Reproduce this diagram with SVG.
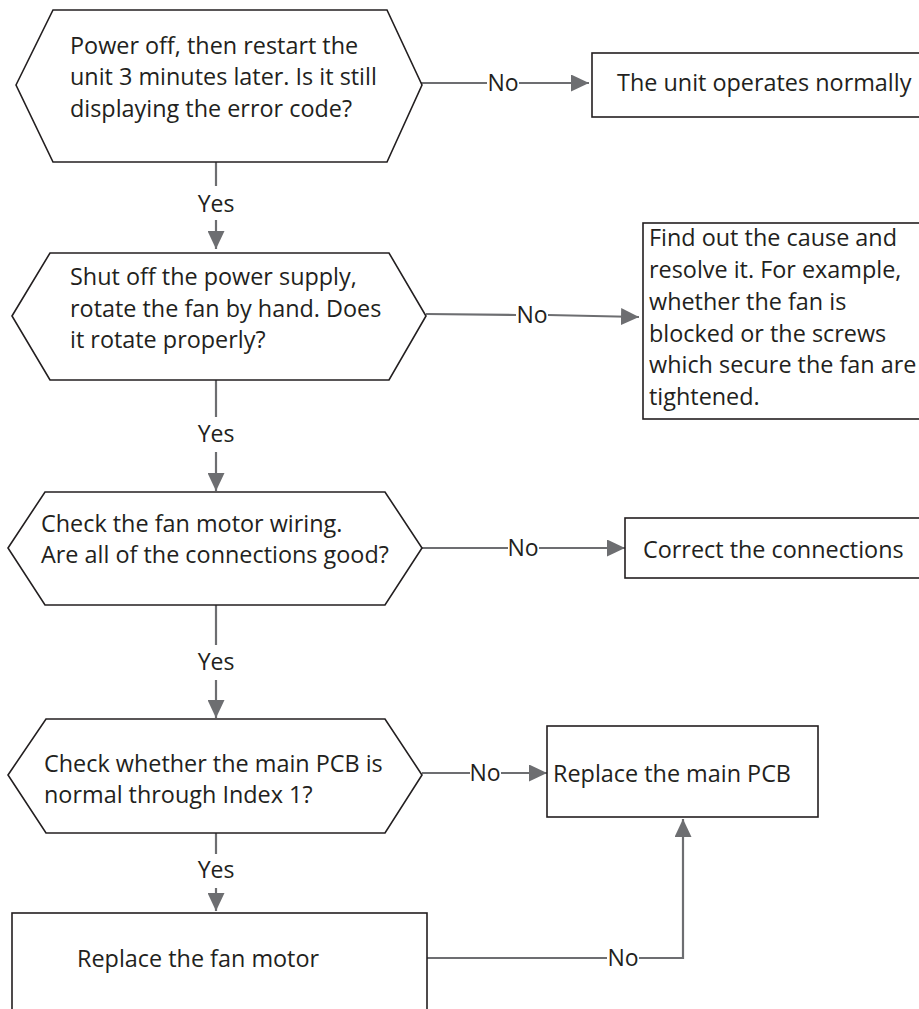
<svg xmlns="http://www.w3.org/2000/svg" width="919" height="1009" viewBox="0 0 919 1009">
<style>
.shape{fill:#fff;stroke:#231f20;stroke-width:1.6}
.t{font-family:"Open Sans","Liberation Sans",sans-serif;font-size:23.4px;fill:#231f20}
.lbl{font-family:"Open Sans","Liberation Sans",sans-serif;font-size:23px;fill:#231f20;text-anchor:middle}
.c{fill:none;stroke:#6d6e71;stroke-width:2.2}
</style>
<defs>
<marker id="ah" markerUnits="userSpaceOnUse" markerWidth="19" markerHeight="17" refX="18" refY="8.5" orient="auto">
<path d="M0,0 L18,8.5 L0,17 Z" fill="#6d6e71"/>
</marker>
</defs>
<rect width="919" height="1009" fill="#fff"/>

<g id="connectors">
<line class="c" x1="216" y1="156" x2="216" y2="186"/>
<line class="c" x1="216" y1="220" x2="216" y2="249" marker-end="url(#ah)"/>
<line class="c" x1="216" y1="375" x2="216" y2="417"/>
<line class="c" x1="216" y1="452" x2="216" y2="491" marker-end="url(#ah)"/>
<line class="c" x1="216" y1="600" x2="216" y2="645"/>
<line class="c" x1="216" y1="680" x2="216" y2="718" marker-end="url(#ah)"/>
<line class="c" x1="216" y1="829" x2="216" y2="854"/>
<line class="c" x1="216" y1="888" x2="216" y2="911" marker-end="url(#ah)"/>

<line class="c" x1="420" y1="83" x2="487" y2="83"/>
<line class="c" x1="519" y1="83" x2="589" y2="83" marker-end="url(#ah)"/>
<line class="c" x1="426" y1="314" x2="516" y2="315"/>
<line class="c" x1="548" y1="315" x2="639" y2="317" marker-end="url(#ah)"/>
<line class="c" x1="422" y1="548" x2="508" y2="548"/>
<line class="c" x1="539" y1="548" x2="625" y2="548" marker-end="url(#ah)"/>
<line class="c" x1="422" y1="773" x2="470" y2="773"/>
<line class="c" x1="501" y1="773" x2="547" y2="773" marker-end="url(#ah)"/>
<line class="c" x1="422" y1="958" x2="607" y2="958"/>
<polyline class="c" points="639,958 683,958 683,819" marker-end="url(#ah)"/>

<text class="lbl" x="216" y="212">Yes</text>
<text class="lbl" x="216" y="442">Yes</text>
<text class="lbl" x="216" y="670">Yes</text>
<text class="lbl" x="216" y="878">Yes</text>
<text class="lbl" x="503" y="91">No</text>
<text class="lbl" x="532" y="323">No</text>
<text class="lbl" x="523" y="556">No</text>
<text class="lbl" x="485" y="781">No</text>
<text class="lbl" x="623" y="966">No</text>
</g>

<g id="n1">
<polygon class="shape" points="16,85 53,10 387,10 422,85 387,162 53,162"/>
<text class="t"><tspan x="70" y="54">Power off, then restart the</tspan><tspan x="70" y="85">unit 3 minutes later. Is it still</tspan><tspan x="70" y="117">displaying the error code?</tspan></text>
</g>
<g id="n2">
<rect class="shape" x="592" y="53" width="335" height="64"/>
<text class="t" x="617" y="91">The unit operates normally</text>
</g>
<g id="n3">
<polygon class="shape" points="12,316 50,253 389,253 426,316 389,380 50,380"/>
<text class="t"><tspan x="70" y="285">Shut off the power supply,</tspan><tspan x="70" y="317">rotate the fan by hand. Does</tspan><tspan x="70" y="348">it rotate properly?</tspan></text>
</g>
<g id="n4">
<rect class="shape" x="643" y="223" width="284" height="196"/>
<text class="t"><tspan x="649" y="246">Find out the cause and</tspan><tspan x="649" y="278">resolve it. For example,</tspan><tspan x="649" y="310">whether the fan is</tspan><tspan x="649" y="342">blocked or the screws</tspan><tspan x="649" y="373">which secure the fan are</tspan><tspan x="649" y="405">tightened.</tspan></text>
</g>
<g id="n5">
<polygon class="shape" points="8,548 45,492 385,492 422,548 385,605 45,605"/>
<text class="t"><tspan x="41" y="532">Check the fan motor wiring.</tspan><tspan x="41" y="563">Are all of the connections good?</tspan></text>
</g>
<g id="n6">
<rect class="shape" x="625" y="518" width="302" height="60"/>
<text class="t" x="643" y="558">Correct the connections</text>
</g>
<g id="n7">
<polygon class="shape" points="8,775 46,719 385,719 422,775 385,833 46,833"/>
<text class="t"><tspan x="44" y="772">Check whether the main PCB is</tspan><tspan x="44" y="803">normal through Index 1?</tspan></text>
</g>
<g id="n8">
<rect class="shape" x="547" y="726" width="271" height="91"/>
<text class="t" x="553" y="782">Replace the main PCB</text>
</g>
<g id="n9">
<rect class="shape" x="12" y="913" width="415" height="110"/>
<text class="t" x="77" y="967">Replace the fan motor</text>
</g>
</svg>
